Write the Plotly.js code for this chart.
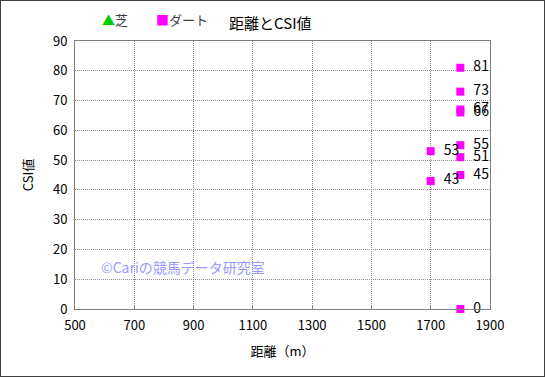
<!DOCTYPE html>
<html><head><meta charset="utf-8">
<script src="https://cdn.plot.ly/plotly-3.0.1.min.js"></script>
<style>
html,body{margin:0;padding:0;background:#fff;}
#wrap{width:545px;height:377px;box-sizing:border-box;border:1px solid #404040;overflow:hidden;}
#chart{width:543px;height:375px;}
</style></head>
<body><div id="wrap"><div id="chart"></div></div>
<script>
const turfDist = [];
const turfCSI = [];
const dirtDist = [1800, 1800, 1800, 1800, 1800, 1800, 1800, 1800, 1700, 1700];
const dirtCSI  = [81, 73, 67, 66, 55, 51, 45, 0, 53, 43];
const xTicks = [500, 700, 900, 1100, 1300, 1500, 1700, 1900];
const yTicks = [0, 10, 20, 30, 40, 50, 60, 70, 80, 90];
const seriesNames = ['芝', 'ダート'];
const seriesColors = ['#00cc00', '#ff00ff'];

const font = "'Noto Sans CJK JP', 'DejaVu Sans', sans-serif";
const traces = [
  {x: turfDist, y: turfCSI, name: seriesNames[0], type: 'scatter', mode: 'markers', showlegend: false,
   marker: {symbol: 'triangle-up', color: seriesColors[0], size: 9}},
  {x: dirtDist, y: dirtCSI, name: seriesNames[1], type: 'scatter', mode: 'markers+text', showlegend: false,
   text: dirtCSI.map(v => '\u2002' + v), textposition: 'middle right',
   textfont: {family: font, size: 14, color: '#000'},
   marker: {symbol: 'square', color: seriesColors[1], size: 8}, cliponaxis: false}
];
const layout = {
  width: 543, height: 375,
  margin: {l: 74, r: 54, t: 40, b: 67},
  paper_bgcolor: '#fff', plot_bgcolor: '#fff',
  font: {family: font, size: 12, color: '#000'},
  title: {text: '距離とCSI値', x: 0.496, xanchor: 'center', y: 0.94, yanchor: 'middle', font: {family: font, size: 15, color: '#000'}},
  showlegend: false,
  xaxis: {range: [500, 1900], tickvals: xTicks, ticktext: xTicks.map(String), showgrid: true,
          gridcolor: '#8c8c8c', griddash: '1px,1px', gridwidth: 1, zeroline: false,
          showline: true, linecolor: '#808080', linewidth: 1, mirror: true,
          ticks: 'inside', ticklen: 4, tickcolor: '#808080', ticklabelstandoff: 4,
          tickfont: {family: font, size: 13, color: '#000'},
          title: {text: '距離（m）', font: {family: font, size: 13, color: '#000'}, standoff: 14}},
  yaxis: {range: [0, 90], tickvals: yTicks, ticktext: yTicks.map(String), showgrid: true,
          gridcolor: '#8c8c8c', griddash: '1px,1px', gridwidth: 1, zeroline: false,
          showline: true, linecolor: '#808080', linewidth: 1, mirror: true,
          ticks: '', ticklabelstandoff: 4, tickfont: {family: font, size: 13, color: '#000'},
          title: {text: 'CSI値', font: {family: font, size: 13, color: '#000'}, standoff: 16}},
  annotations: [
    {text: '<span style="color:' + seriesColors[0] + '">▲</span>' + seriesNames[0], xref: 'paper', yref: 'paper',
     x: (99 - 74) / 415, y: 1 + (40 - 19) / 268, xanchor: 'left', yanchor: 'middle', showarrow: false,
     font: {family: font, size: 13, color: '#404040'}},
    {text: '<span style="color:' + seriesColors[1] + '">■</span>' + seriesNames[1], xref: 'paper', yref: 'paper',
     x: (153 - 74) / 415, y: 1 + (40 - 19) / 268, xanchor: 'left', yanchor: 'middle', showarrow: false,
     font: {family: font, size: 13, color: '#404040'}},
    {text: '©Cariの競馬データ研究室', xref: 'x', yref: 'y', x: 580, y: 14, xanchor: 'left', yanchor: 'middle',
     showarrow: false, font: {family: font, size: 14, color: '#9999ff'}}
  ]
};
Plotly.newPlot('chart', traces, layout, {displayModeBar: false, staticPlot: true});
</script></body></html>
